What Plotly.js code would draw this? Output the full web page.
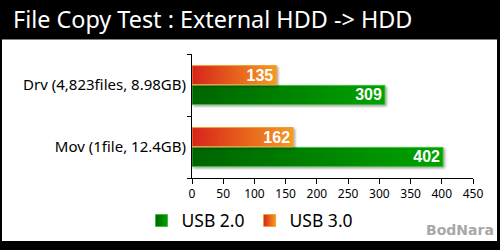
<!DOCTYPE html>
<html>
<head>
<meta charset="utf-8">
<script src="https://cdn.plot.ly/plotly-3.0.1.min.js"></script>
<style>
html,body{margin:0;padding:0;background:#000;}
#chart{width:500px;height:250px;}
</style>
</head>
<body>
<div id="chart"></div>
<script>
// ---- data ----
const categories = ['Drv (4,823files, 8.98GB)', 'Mov (1file, 12.4GB)'];
const seriesNames = ['USB 2.0', 'USB 3.0'];
const usb20 = [309, 402];
const usb30 = [135, 162];
const xTickVals = [0, 50, 100, 150, 200, 250, 300, 350, 400, 450];
const titleText = 'File Copy Test : External HDD -> HDD';
const watermark = 'BodNara';

// plot area geometry (pixels)
const L = 192, R = 473, T = 54, B = 182, W = 500, H = 250;
const pw = R - L, ph = B - T;
const px = x => (x - L) / pw;
const py = y => (B - y) / ph;

const labelFont = {family: 'Liberation Sans, Arial, sans-serif', size: 16, color: '#ffffff', weight: 'bold'};

const traces = [
  {
    type: 'bar', orientation: 'h', name: seriesNames[0],
    x: usb20, y: categories,
    text: usb20.map(String), textposition: 'inside', insidetextanchor: 'end',
    textfont: labelFont, constraintext: 'none', cliponaxis: false,
    marker: {color: '#0a8a0a', line: {color: '#3cbf3c', width: 1}},
    hoverinfo: 'none'
  },
  {
    type: 'bar', orientation: 'h', name: seriesNames[1],
    x: usb30, y: categories,
    text: usb30.map(String), textposition: 'inside', insidetextanchor: 'end',
    textfont: labelFont, constraintext: 'none', cliponaxis: false,
    marker: {color: '#e85a18', line: {color: '#f2a030', width: 1}},
    hoverinfo: 'none'
  }
];

const layout = {
  width: W, height: H,
  margin: {l: L, r: W - R, t: T, b: H - B, pad: 0},
  paper_bgcolor: '#000000',
  plot_bgcolor: '#ffffff',
  barmode: 'group', bargap: 0.36, bargroupgap: 0.04,
  showlegend: true,
  font: {family: 'Noto Sans, sans-serif', color: '#000'},
  title: {
    text: titleText, xref: 'container', yref: 'container',
    x: 13 / W, xanchor: 'left', y: 1 - 20 / H, yanchor: 'middle',
    font: {family: 'Noto Sans, sans-serif', size: 23.4, color: '#ffffff'}
  },
  xaxis: {
    range: [0, 450], tickvals: xTickVals, ticktext: xTickVals.map(String),
    showgrid: false, zeroline: false, showline: true, linecolor: '#000', linewidth: 1,
    ticks: 'outside', ticklen: 5, tickcolor: '#000', tickwidth: 1,
    tickfont: {family: 'Noto Sans, sans-serif', size: 12, color: '#000'},
    fixedrange: true
  },
  yaxis: {
    type: 'category', categoryorder: 'array', categoryarray: categories.slice().reverse(),
    showgrid: false, zeroline: false, showline: true, linecolor: '#000', linewidth: 1,
    ticks: 'outside', tickson: 'boundaries', ticklen: 4, tickcolor: '#000',
    tickfont: {family: 'Noto Sans, sans-serif', size: 15, color: '#000'},
    ticklabelstandoff: 2,
    fixedrange: true
  },
  legend: {
    orientation: 'h', x: px(250), xanchor: 'center', y: py(226), yanchor: 'middle',
    font: {family: 'Noto Sans, sans-serif', size: 17.5, color: '#000'},
    bgcolor: 'rgba(0,0,0,0)', itemclick: false, itemdoubleclick: false
  },
  shapes: [
    {type: 'rect', xref: 'paper', yref: 'paper', layer: 'below',
     x0: px(2), x1: px(497), y0: py(247), y1: py(39),
     fillcolor: '#ffffff', line: {width: 0}}
  ],
  annotations: [
    {text: watermark, xref: 'paper', yref: 'paper', x: px(496), y: py(246),
     xanchor: 'right', yanchor: 'bottom', showarrow: false,
     font: {family: 'DejaVu Sans, sans-serif', size: 14, color: '#a8a8a8', weight: 'bold'}}
  ]
};

Plotly.newPlot('chart', traces, layout, {staticPlot: true, displayModeBar: false}).then(gd => {
  const svg = gd.querySelector('svg.main-svg');
  const ns = 'http://www.w3.org/2000/svg';
  let defs = svg.querySelector('defs');
  if (!defs) { defs = document.createElementNS(ns, 'defs'); svg.insertBefore(defs, svg.firstChild); }
  function grad(id, stops) {
    const g = document.createElementNS(ns, 'linearGradient');
    g.setAttribute('id', id);
    g.setAttribute('x1', '0'); g.setAttribute('y1', '0');
    g.setAttribute('x2', '1'); g.setAttribute('y2', '0');
    stops.forEach(([o, c]) => {
      const s = document.createElementNS(ns, 'stop');
      s.setAttribute('offset', o); s.setAttribute('stop-color', c);
      g.appendChild(s);
    });
    defs.appendChild(g);
  }
  grad('gGreen', [['0', '#006400'], ['1', '#00a300']]);
  grad('gOrange', [['0', '#d8241a'], ['1', '#f59a22']]);
  const f = document.createElementNS(ns, 'filter');
  f.setAttribute('id', 'shadow');
  f.setAttribute('x', '-10%'); f.setAttribute('y', '-20%');
  f.setAttribute('width', '130%'); f.setAttribute('height', '160%');
  const ds = document.createElementNS(ns, 'feDropShadow');
  ds.setAttribute('dx', '1.5'); ds.setAttribute('dy', '1.5');
  ds.setAttribute('stdDeviation', '1'); ds.setAttribute('flood-color', '#000');
  ds.setAttribute('flood-opacity', '0.35');
  f.appendChild(ds); defs.appendChild(f);

  const fills = ['url(#gGreen)', 'url(#gOrange)'];
  gd.querySelectorAll('.barlayer .trace.bars').forEach((t, i) => {
    t.querySelectorAll('.point path').forEach(p => {
      p.style.fill = fills[i];
      p.setAttribute('filter', 'url(#shadow)');
    });
  });
  gd.querySelectorAll('.legend .traces').forEach((t, i) => {
    t.querySelectorAll('.legendpoints path').forEach(p => { p.style.fill = fills[i]; });
  });
});
</script>
</body>
</html>
